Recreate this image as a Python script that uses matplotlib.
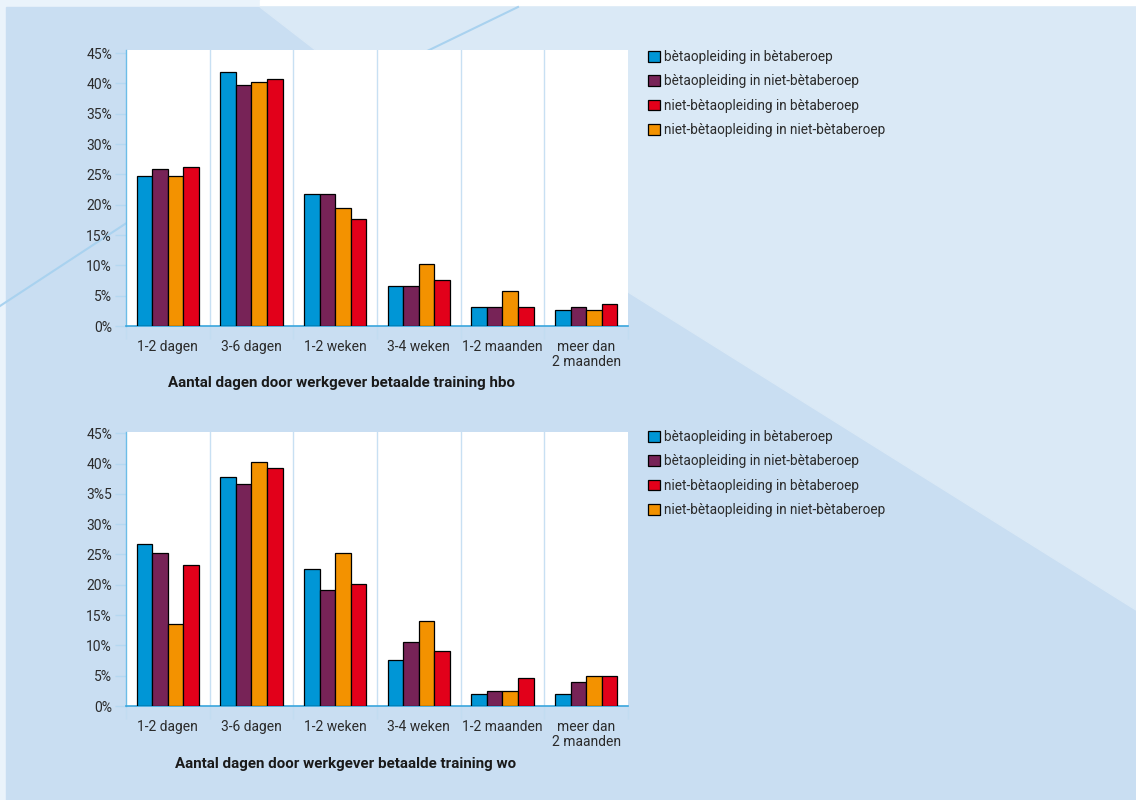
import matplotlib
matplotlib.use("Agg")
import matplotlib.pyplot as plt
import numpy as np
from matplotlib.patches import Polygon, Rectangle

plt.rcParams['font.family'] = ['Liberation Sans Narrow', 'Roboto', 'DejaVu Sans']

categories = ["1-2 dagen", "3-6 dagen", "1-2 weken", "3-4 weken", "1-2 maanden", "meer dan\n2 maanden"]
series_labels = ["bètaopleiding in bètaberoep", "bètaopleiding in niet-bètaberoep",
                 "niet-bètaopleiding in niet-bètaberoep", "niet-bètaopleiding in bètaberoep"]
series_colors = ["#0096d6", "#772357", "#f39200", "#e2001a"]
legend_order = [0, 1, 3, 2]

hbo_beta_beta = [24.8, 41.8, 21.7, 6.6, 3.1, 2.6]
hbo_beta_niet = [25.8, 39.8, 21.7, 6.6, 3.1, 3.1]
hbo_niet_niet = [24.8, 40.3, 19.4, 10.2, 5.8, 2.6]
hbo_niet_beta = [26.2, 40.8, 17.6, 7.6, 3.1, 3.6]

wo_beta_beta = [26.7, 37.7, 22.6, 7.6, 2.0, 2.0]
wo_beta_niet = [25.2, 36.7, 19.1, 10.6, 2.5, 4.0]
wo_niet_niet = [13.6, 40.2, 25.2, 14.1, 2.5, 5.0]
wo_niet_beta = [23.2, 39.3, 20.1, 9.1, 4.6, 5.0]

ytick_vals = [0, 5, 10, 15, 20, 25, 30, 35, 40, 45]
ytick_labels_hbo = ["0%", "5%", "10%", "15%", "20%", "25%", "30%", "35%", "40%", "45%"]
ytick_labels_wo = ["0%", "5%", "10%", "15%", "20%", "25%", "30%", "3%5", "40%", "45%"]

title_hbo = "Aantal dagen door werkgever betaalde training hbo"
title_wo = "Aantal dagen door werkgever betaalde training wo"

W, H = 1136, 800
fig = plt.figure(figsize=(W / 100, H / 100), dpi=100)

# background
bg = fig.add_axes([0, 0, 1, 1])
bg.set_xlim(0, W)
bg.set_ylim(H, 0)
bg.axis('off')
bg.add_patch(Rectangle((0, 0), W, H, color="#eaf3fb", zorder=0))
bg.add_patch(Rectangle((260, 0), W, 7, color="white", zorder=0.5))
bg.add_patch(Rectangle((6, 7), W, H, color="#c9def2", zorder=1))
bg.add_patch(Polygon([(260, 7), (W, 7), (W, 610), (628, 292)], closed=True, color="#dae9f6", zorder=2))
bg.plot([0, 125, 421, 518], [306, 224, 54, 7], color="#a9d2ef", lw=1.5, zorder=3)


def make_panel(rect_px, data, ylabels, ytop, title, title_xy, legend_y):
    x0, y0, x1, y1 = rect_px
    ax = fig.add_axes([x0 / W, 1 - y1 / H, (x1 - x0) / W, (y1 - y0) / H])
    ax.set_facecolor("white")
    n = len(categories)
    x = np.arange(n)
    bw = 0.187
    offsets = (np.arange(4) - 1.5) * bw
    for i, vals in enumerate(data):
        ax.bar(x + offsets[i], vals, width=bw, color=series_colors[i], edgecolor="black",
               linewidth=0.9, label=series_labels[i], zorder=3)
    ax.set_xlim(-0.5, n - 0.5)
    ax.set_ylim(0, ytop)
    ax.set_yticks(ytick_vals)
    ax.set_yticklabels(ylabels)
    ax.set_xticks(x)
    ax.set_xticklabels(categories, linespacing=1.1)
    ax.tick_params(axis='x', length=0, pad=10, labelsize=10, labelcolor="#2b2b2b")
    ax.tick_params(axis='y', length=8, width=1, color="#b5d8f1", pad=2, labelsize=10, labelcolor="#2b2b2b")
    ax.set_xticks(np.arange(n + 1) - 0.5, minor=True)
    ax.tick_params(axis='x', which='minor', length=9, width=1, color="#c2dcf1", direction='out')
    for b in np.arange(1, n) - 0.5:
        ax.axvline(b, color="#c8e0f3", lw=1, zorder=1)
    for s in ['top', 'right']:
        ax.spines[s].set_visible(False)
    ax.spines['left'].set_color("#6cbde8")
    ax.spines['left'].set_linewidth(1)
    ax.spines['bottom'].set_color("#3aa6dd")
    ax.spines['bottom'].set_linewidth(1.2)
    fig.text(title_xy[0] / W, 1 - title_xy[1] / H, title, fontsize=10.9, fontweight='bold',
             color="#1a1a1a", ha='center', va='center')
    handles, labels = ax.get_legend_handles_labels()
    handles = [handles[k] for k in legend_order]
    labels = [labels[k] for k in legend_order]
    fig.legend(handles, labels, loc='upper left', bbox_to_anchor=(648 / W, 1 - legend_y / H),
               frameon=False, fontsize=9.8, handlelength=0.85, handleheight=0.85,
               handletextpad=0.3, labelspacing=0.76, borderpad=0, borderaxespad=0,
               labelcolor="#2b2b2b")
    return ax


make_panel((126, 50, 628, 326), [hbo_beta_beta, hbo_beta_niet, hbo_niet_niet, hbo_niet_beta],
           ytick_labels_hbo, 45.5, title_hbo, (342, 383), 50)
make_panel((126, 432, 628, 706), [wo_beta_beta, wo_beta_niet, wo_niet_niet, wo_niet_beta],
           ytick_labels_wo, 45.2, title_wo, (346, 764), 430)

fig.savefig("out.png", dpi=100)
